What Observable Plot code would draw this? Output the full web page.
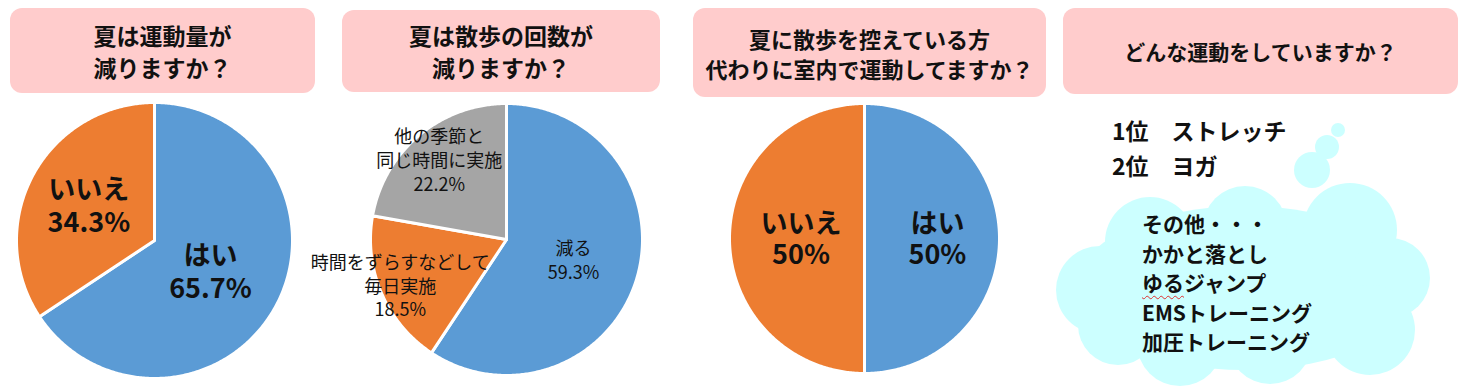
<!DOCTYPE html>
<html><head><meta charset="utf-8">
<script src="https://cdn.jsdelivr.net/npm/d3@7"></script>
<script src="https://cdn.jsdelivr.net/npm/@observablehq/plot@0.6"></script>
<style>
html,body{margin:0;padding:0;background:#fff;}
body{width:1467px;height:391px;position:relative;overflow:hidden;font-family:"Noto Sans CJK JP","Noto Sans",sans-serif;color:#111;}
.hdr{position:absolute;background:#FFCCCC;border-radius:12px;display:flex;align-items:center;justify-content:center;text-align:center;font-weight:bold;white-space:pre-line;}
.abs{position:absolute;}
.rank{position:absolute;left:1112px;top:113px;font-weight:bold;font-size:23px;line-height:35px;white-space:pre;}
.other{position:absolute;left:1142px;top:209px;font-weight:bold;font-size:21px;line-height:29.5px;white-space:pre;}
.wavy{text-decoration:underline wavy #e03030;text-decoration-thickness:1px;text-underline-offset:4px;}
</style></head>
<body>
<svg class="abs" style="left:0;top:0" width="1467" height="391">
  <g fill="#CCFFFF">
    <circle cx="1338" cy="130" r="7"/>
    <circle cx="1327" cy="147" r="12"/>
    <circle cx="1312" cy="170" r="18"/>
    <ellipse cx="1245" cy="288" rx="170" ry="82"/>
    <circle cx="1150" cy="242" r="45"/>
    <circle cx="1245" cy="228" r="42"/>
    <circle cx="1350" cy="230" r="47"/>
    <circle cx="1390" cy="278" r="40"/>
    <circle cx="1370" cy="330" r="45"/>
    <circle cx="1270" cy="342" r="42"/>
    <circle cx="1180" cy="343" r="43"/>
    <circle cx="1100" cy="290" r="44"/>
    <circle cx="1118" cy="325" r="40"/>
  </g>
</svg>
<div id="root"></div>
<script>
// ---- data ----
const titles = ["夏は運動量が\n減りますか？", "夏は散歩の回数が\n減りますか？", "夏に散歩を控えている方\n代わりに室内で運動してますか？", "どんな運動をしていますか？"];
const q1Categories = ["はい", "いいえ"];
const q1Values = [65.7, 34.3];
const q2Categories = ["減る", "時間をずらすなどして\n毎日実施", "他の季節と\n同じ時間に実施"];
const q2Values = [59.3, 18.5, 22.2];
const q3Categories = ["はい", "いいえ"];
const q3Values = [50, 50];
const rankLabels = ["1位", "2位"];
const rankItems = ["ストレッチ", "ヨガ"];
const otherHeading = "その他・・・";
const otherItems = ["かかと落とし", "ゆるジャンプ", "EMSトレーニング", "加圧トレーニング"];

// ---- styles / layout ----
const sliceColors = ["#5B9BD5", "#ED7D31", "#A5A5A5"];
const headerBoxes = [
  {left: 10, top: 8, width: 305, height: 85, fontSize: 23, lineHeight: 32},
  {left: 342, top: 10, width: 318, height: 82, fontSize: 23, lineHeight: 32},
  {left: 693, top: 8, width: 353, height: 89, fontSize: 22, lineHeight: 30},
  {left: 1063, top: 8, width: 395, height: 86, fontSize: 21, lineHeight: 30}
];
const root = document.getElementById("root");
titles.forEach((t, i) => {
  const b = headerBoxes[i];
  const d = document.createElement("div");
  d.className = "hdr";
  Object.assign(d.style, {left: b.left + "px", top: b.top + "px", width: b.width + "px", height: b.height + "px", fontSize: b.fontSize + "px", lineHeight: b.lineHeight + "px"});
  d.textContent = t;
  root.appendChild(d);
});

function pieChart(categories, values, o) {
  const arcs = d3.pie().sort(null).value(d => d)(values);
  const feats = arcs.map((a, i) => {
    const n = Math.max(4, Math.ceil((a.endAngle - a.startAngle) / 0.01));
    const ring = [[0, 0]];
    for (let k = 0; k <= n; k++) {
      const t = a.startAngle + (a.endAngle - a.startAngle) * k / n;
      ring.push([Math.sin(t), Math.cos(t)]);
    }
    ring.push([0, 0]);
    return {type: "Feature", properties: {color: sliceColors[i], name: categories[i]}, geometry: {type: "Polygon", coordinates: [ring]}};
  });
  const labels = arcs.map((a, i) => {
    const m = (a.startAngle + a.endAngle) / 2;
    return {x: o.labelR[i] * Math.sin(m), y: o.labelR[i] * Math.cos(m), text: categories[i] + "\n" + values[i] + "%"};
  });
  const p = Plot.plot({
    width: o.width, height: o.height, margin: 0,
    style: {background: "transparent", overflow: "visible"},
    projection: {type: "reflect-y", inset: o.inset, domain: {type: "MultiPoint", coordinates: [[-1, -1], [1, 1]]}},
    color: {type: "identity"},
    marks: [
      Plot.geo(feats, {fill: d => d.properties.color, stroke: "white", strokeWidth: 3}),
      Plot.text(labels, {x: "x", y: "y", text: "text", fontSize: o.fontSize, fontWeight: o.fontWeight,
        fontFamily: "Noto Sans CJK JP", fill: "#111", lineHeight: o.lineHeight})
    ]
  });
  p.style.position = "absolute";
  p.style.left = o.left + "px";
  p.style.top = o.top + "px";
  root.appendChild(p);
}

pieChart(q1Categories, q1Values, {left: 4, top: 98, width: 300, height: 284, inset: 4, labelR: [0.46, 0.54], fontSize: 27, fontWeight: "bold", lineHeight: 1.22});
pieChart(q2Categories, q2Values, {left: 310, top: 99, width: 392, height: 280, inset: 4, labelR: [0.515, 0.85, 0.77], fontSize: 18, fontWeight: "normal", lineHeight: 1.32});
pieChart(q3Categories, q3Values, {left: 714, top: 99, width: 300, height: 278, inset: 4, labelR: [0.54, 0.47], fontSize: 27, fontWeight: "bold", lineHeight: 1.15});

// ---- panel 4 text ----
const rank = document.createElement("div");
rank.className = "rank";
rank.textContent = rankLabels.map((r, i) => r + "\u3000" + rankItems[i]).join("\n");
root.appendChild(rank);
const other = document.createElement("div");
other.className = "other";
other.innerHTML = [otherHeading, ...otherItems].map(s => s === "ゆるジャンプ" ? '<span class="wavy">ゆる</span>ジャンプ' : s).join("<br>");
root.appendChild(other);
</script>
</body></html>
